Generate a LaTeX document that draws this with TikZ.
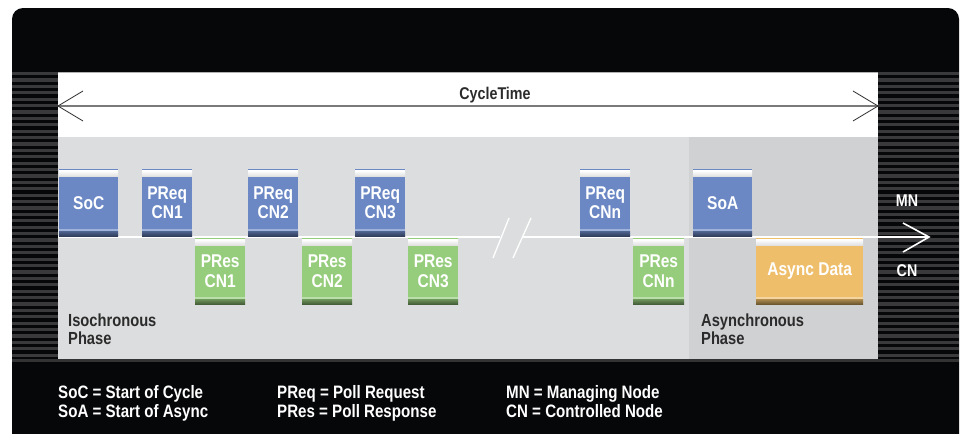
\documentclass[tikz,border=0pt]{standalone}
\usepackage{fontspec}
\setmainfont{Liberation Sans}[FakeStretch=0.84]
\usetikzlibrary{calc}
\definecolor{bg}{HTML}{060709}
\definecolor{stripe}{HTML}{3A3A3C}
\definecolor{lgray}{HTML}{DCDDDE}
\definecolor{dgray}{HTML}{D0D1D3}
\definecolor{bl}{HTML}{6B88C5}
\definecolor{gr}{HTML}{96CD7C}
\definecolor{orng}{HTML}{EEBE6B}
\definecolor{txt}{HTML}{2B2B2B}
\definecolor{cyc}{HTML}{7A7A7A}
\tikzset{
  frame/.style={fill=#1, text=white, inner sep=0pt, align=center, anchor=north west,
    font=\fontsize{18.5}{19.5}\selectfont\bfseries,
    path picture={
      \fill[#1] (path picture bounding box.north west) rectangle ([yshift=-1.2pt]path picture bounding box.north east);
      \shade[top color=white, bottom color=black!12] ([yshift=-1.2pt]path picture bounding box.north west) rectangle ([yshift=-7pt]path picture bounding box.north east);
      \fill[#1!65!white] ([yshift=7pt]path picture bounding box.south west) rectangle ([yshift=4.5pt]path picture bounding box.south east);
      \shade[top color=#1!70!black, bottom color=#1!45!black] ([yshift=4.5pt]path picture bounding box.south west) rectangle (path picture bounding box.south east);
    }},
  reqbox/.style={frame=bl, minimum height=67pt},
  resbox/.style={frame=gr, minimum height=66pt},
  asybox/.style={frame=orng, minimum height=66pt},
  legend/.style={anchor=base west, text=white, inner sep=0pt, font=\fontsize{18}{19}\selectfont\bfseries},
  phase/.style={anchor=base west, text=txt, inner sep=0pt, font=\fontsize{17.5}{19}\selectfont\bfseries},
  side/.style={text=white, inner sep=0pt, font=\fontsize{17}{19}\selectfont\bfseries},
  tline/.style={white, line width=1.6pt},
  cline/.style={cyc, line width=1.3pt},
  carm/.style={black!80, line width=0.8pt},
}
\begin{document}
\begin{tikzpicture}[x=1pt, y=-1pt]
\useasboundingbox (0,0) rectangle (962,434);
\fill[white] (0,0) rectangle (962,434);
% black frame
\fill[bg, rounded corners=11pt] (12,8) rectangle (959,450);
% stripes
\foreach \i in {0,...,44} {
  \fill[stripe] (12,72+\i*6.4) rectangle (58,72+\i*6.4+3.1);
  \fill[stripe] (878,72+\i*6.4) rectangle (959,72+\i*6.4+3.1);
}
% white band and gray phases
\fill[black!30] (58,71.5) rectangle (878,73);
\fill[white] (58,73) rectangle (878,137);
\fill[lgray] (58,137) rectangle (689,359);
\fill[dgray] (689,137) rectangle (878,359);
\fill[black!80] (12,359) rectangle (959,362);
% cycle time arrow
\coordinate (cl) at (58,106);
\coordinate (cr) at (878,106);
\draw[cline] (cl) -- (cr);
\draw[carm] ($(cl)+(25,-15)$) -- (cl) -- ($(cl)+(25,15)$);
\draw[carm] ($(cr)+(-25,-15)$) -- (cr) -- ($(cr)+(-25,15)$);
\node[text=txt, inner sep=0pt, font=\fontsize{17}{19}\selectfont\bfseries] (ct) at (495,95) {CycleTime};
% timeline
\coordinate (t0) at (58,237);
\coordinate (b0) at (500,237);
\coordinate (b1) at (523,237);
\coordinate (t1) at (929,237);
\draw[tline] (t0) -- (b0);
\draw[tline] (b1) -- (t1);
\draw[tline] ($(t1)+(-26,-14)$) -- (t1) -- ($(t1)+(-26,15)$);
\draw[tline, line width=1.3pt] (509,218) -- (493,258);
\draw[tline, line width=1.3pt] (531,218) -- (513,258);
% MN boxes
\node[reqbox, minimum width=59pt] (soc) at (59,169) {SoC};
\node[reqbox, minimum width=50pt] (pq1) at (142,169) {PReq\\CN1};
\node[reqbox, minimum width=50pt] (pq2) at (248,169) {PReq\\CN2};
\node[reqbox, minimum width=50pt] (pq3) at (355,169) {PReq\\CN3};
\node[reqbox, minimum width=50pt] (pqn) at (580,169) {PReq\\CNn};
\node[reqbox, minimum width=59pt] (soa) at (693,169) {SoA};
% CN boxes
\node[resbox, minimum width=50pt] (ps1) at (195,238) {PRes\\CN1};
\node[resbox, minimum width=50pt] (ps2) at (302,238) {PRes\\CN2};
\node[resbox, minimum width=50pt] (ps3) at (408,238) {PRes\\CN3};
\node[resbox, minimum width=51pt] (psn) at (633,238) {PRes\\CNn};
\node[asybox, minimum width=107pt] (asy) at (756,238) {Async Data};
% side labels
\node[side] (mn) at (907,201) {MN};
\node[side] (cn) at (907,271) {CN};
% phase labels
\node[phase] (iso1) at (68,326) {Isochronous};
\node[phase] (iso2) at (68,344) {Phase};
\node[phase] (asp1) at (701,326) {Asynchronous};
\node[phase] (asp2) at (701,344) {Phase};
% legend
\node[legend] (l1) at (58,398) {SoC = Start of Cycle};
\node[legend] (l2) at (58,417) {SoA = Start of Async};
\node[legend] (l3) at (277,398) {PReq = Poll Request};
\node[legend] (l4) at (277,417) {PRes = Poll Response};
\node[legend] (l5) at (506,398) {MN = Managing Node};
\node[legend] (l6) at (506,417) {CN = Controlled Node};
\end{tikzpicture}
\end{document}
